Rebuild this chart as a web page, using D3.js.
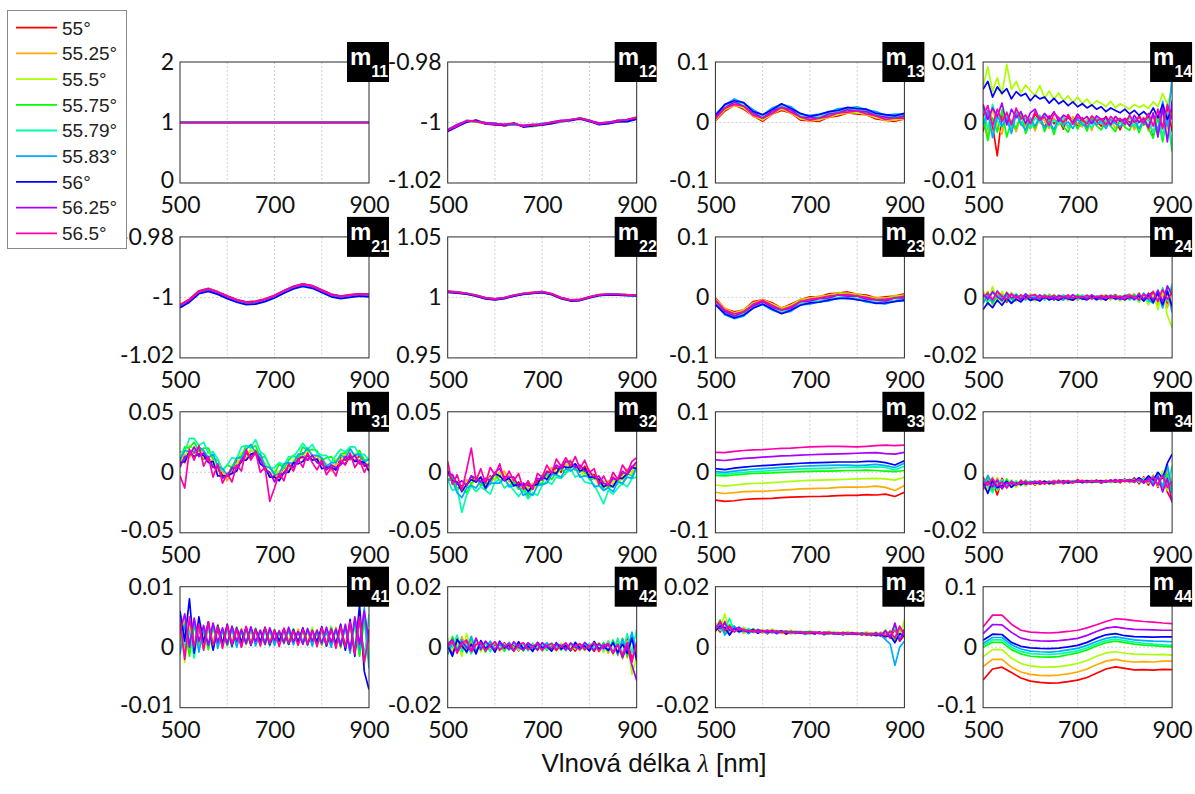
<!DOCTYPE html>
<html><head><meta charset="utf-8">
<script src="https://cdn.jsdelivr.net/npm/d3@7"></script>
<style>body{margin:0;background:#fff}svg{display:block}</style>
</head><body>
<svg id="chart" width="1195" height="794"></svg>
<script>
// ---------- data (series values are in thousandths of the matrix element) ----------
const UNIT = 1e-3;
const angles = ["55°","55.25°","55.5°","55.75°","55.79°","55.83°","56°","56.25°","56.5°"];
const panelNames = ["11","12","13","14","21","22","23","24","31","32","33","34","41","42","43","44"];
const xTickLabels = ["500","700","900"];
const xGrid = [500,600,700,800,900];
const yTickLabels = [
 ["0","1","2"],["-1.02","-1","-0.98"],["-0.1","0","0.1"],["-0.01","0","0.01"],
 ["-1.02","-1","-0.98"],["0.95","1","1.05"],["-0.1","0","0.1"],["-0.02","0","0.02"],
 ["-0.05","0","0.05"],["-0.05","0","0.05"],["-0.1","0","0.1"],["-0.02","0","0.02"],
 ["-0.01","0","0.01"],["-0.02","0","0.02"],["-0.02","0","0.02"],["-0.1","0","0.1"]
];
const wl2 = [500,900];
const wl21 = [500,520,540,560,580,600,620,640,660,680,700,720,740,760,780,800,820,840,860,880,900];
const wl41 = [500,510,520,530,540,550,560,570,580,590,600,610,620,630,640,650,660,670,680,690,700,710,720,730,740,750,760,770,780,790,800,810,820,830,840,850,860,870,880,890,900];

const m11 = [[1000,1000],[1000,1000],[1000,1000],[1000,1000],[1000,1000],[1000,1000],[1000,1000],[1000,1000],[1000,1000]];
const m12 = [
 [-1002.8,-1001.2,-999.4,-999.8,-1000.4,-1000.2,-1001.1,-1000.6,-1001.0,-1001.3,-1000.4,-1000.3,-999.8,-999.0,-998.9,-999.6,-1000.1,-1000.3,-999.2,-999.6,-998.8],
 [-1002.3,-1000.8,-999.8,-999.3,-1000.0,-1000.7,-1000.6,-1000.2,-1001.4,-1000.7,-1000.8,-999.8,-999.4,-999.3,-998.4,-999.2,-1000.6,-999.8,-999.7,-999.0,-998.2],
 [-1002.6,-1001.3,-999.5,-999.7,-1000.3,-1000.4,-1000.9,-1000.5,-1001.1,-1001.5,-1000.5,-1000.1,-999.7,-999.1,-998.7,-999.5,-1000.2,-1000.1,-999.4,-999.3,-998.5],
 [-1002.4,-1000.9,-999.7,-999.4,-1000.1,-1000.6,-1000.7,-1000.3,-1001.3,-1000.8,-1000.7,-999.9,-999.5,-999.2,-998.5,-999.3,-1000.5,-999.9,-999.6,-999.1,-998.3],
 [-1002.2,-1001.0,-999.6,-999.6,-1000.2,-1000.5,-1000.8,-1000.4,-1001.2,-1000.9,-1000.6,-1000.0,-999.6,-999.3,-998.6,-999.4,-1000.4,-1000.0,-999.5,-999.2,-998.4],
 [-1002.7,-1001.1,-999.3,-999.5,-1000.0,-1000.3,-1000.9,-1000.7,-1001.0,-1001.0,-1000.3,-1000.2,-999.9,-999.0,-998.8,-999.7,-1000.3,-1000.2,-999.3,-999.4,-998.6],
 [-1003.0,-1001.4,-999.9,-999.2,-1000.5,-1000.8,-1001.0,-1000.2,-1001.5,-1001.1,-1000.9,-1000.4,-999.5,-999.4,-998.7,-999.6,-1000.7,-1000.4,-999.8,-999.7,-998.9],
 [-1002.4,-1000.7,-999.5,-999.6,-1000.1,-1000.4,-1000.6,-1000.5,-1000.9,-1000.6,-1000.5,-999.9,-999.3,-999.1,-998.5,-999.3,-1000.2,-999.9,-999.4,-999.0,-998.3],
 [-1002.5,-1001.2,-999.4,-999.6,-1000.4,-1000.6,-1000.7,-1000.3,-1001.2,-1000.8,-1000.7,-1000.0,-999.6,-999.1,-998.6,-999.5,-1000.5,-1000.0,-999.6,-999.0,-998.5]
];
const m13 = [
 [3,19,29,22,11,2,14,20,16,4,3,2,9,11,16,14,13,6,4,2,6],
 [5,21,28,25,10,5,13,23,15,7,2,5,8,14,15,17,12,9,3,5,5],
 [4,23,31,24,13,4,16,22,18,6,5,4,11,13,18,16,15,8,6,4,8],
 [8,23,33,27,13,8,16,26,18,10,5,8,11,17,18,20,15,12,6,8,8],
 [9,28,34,31,16,10,21,27,23,11,10,9,16,18,23,21,20,13,11,9,13],
 [14,29,39,32,21,12,24,30,26,14,12,14,17,23,24,26,21,18,12,14,14],
 [11,30,36,33,18,13,21,31,23,15,10,13,18,20,25,23,22,15,13,11,15],
 [9,24,34,27,16,7,19,25,21,9,8,7,14,16,21,19,18,11,9,7,11],
 [6,24,30,27,12,7,15,25,17,9,4,7,10,16,17,19,14,11,5,7,7]
];
const m14 = [
 [-1.5,1.8,-0.5,-5.5,1.2,0.4,-1.2,2.0,-0.3,0.9,-1.0,1.5,0.2,-0.8,1.1,-0.2,0.6,-1.1,1.3,0.1,-0.5,0.8,-0.9,0.6,0.2,-0.6,1.0,-0.3,0.4,-1.2,0.7,0.1,-0.8,1.2,-0.4,0.9,-2.2,1.5,-0.8,2.6,-1.5],
 [0.5,-2.2,2.5,-0.8,-1.9,1.6,0.2,-1.5,1.0,-0.6,0.8,-1.4,0.9,0.3,-1.0,0.7,-0.4,0.5,-0.9,1.0,-0.2,-0.7,0.6,-1.3,0.8,0.0,-0.8,0.5,-1.0,0.3,-0.6,1.0,-1.2,0.2,0.9,-1.4,1.2,-2.0,2.3,-1.0,1.8],
 [6.0,9.2,5.1,7.4,4.6,9.6,5.5,6.8,4.9,6.2,5.3,4.4,6.1,4.0,5.2,3.8,4.9,3.6,4.4,3.3,4.2,3.1,3.9,2.8,3.6,3.2,2.6,3.5,2.4,3.1,2.7,2.2,3.0,2.5,2.9,2.3,3.4,2.6,4.8,3.0,5.5],
 [1.0,-3.0,0.8,-1.6,2.1,-2.4,0.3,-1.0,1.4,-1.8,0.1,-0.9,1.2,-1.5,0.4,-2.0,0.6,-0.7,-1.6,0.5,-1.1,0.3,-1.4,0.9,-0.5,-1.2,0.2,-0.6,-1.5,0.4,-0.8,-1.3,0.6,-1.7,0.3,-1.0,-2.6,0.8,-3.2,1.0,-4.8],
 [2.5,-1.2,3.0,0.2,-0.8,1.8,-1.2,2.2,-0.4,1.0,-1.0,0.8,0.0,1.2,-0.7,0.4,-0.3,1.0,-0.8,0.2,0.6,-0.5,0.3,-0.9,0.7,-0.2,0.4,-0.6,0.5,0.0,-0.4,0.8,-0.7,0.3,-0.2,0.6,-1.8,2.0,-2.4,1.6,-4.0],
 [-0.5,2.0,-2.5,1.2,-0.6,0.8,-1.8,1.4,-0.2,-1.2,0.7,-0.6,0.9,-0.9,0.2,-1.2,0.8,-0.4,0.1,-1.0,0.6,-0.3,-0.8,0.4,-0.4,0.3,-1.0,0.5,-0.2,-0.7,0.3,-0.5,0.6,-1.0,0.5,-0.6,1.4,-1.4,3.5,-0.6,7.5],
 [5.5,6.8,4.2,5.9,4.8,5.6,3.9,5.1,4.4,4.8,3.6,4.5,3.9,4.2,3.2,4.0,3.1,3.6,2.8,3.4,2.6,3.1,2.4,2.9,2.2,2.6,1.8,2.4,2.0,1.6,2.2,1.4,2.0,1.2,1.8,1.0,2.4,0.8,3.0,0.5,2.2],
 [3.0,0.5,2.4,1.0,3.2,-0.4,2.2,0.8,1.8,-0.2,1.6,2.2,0.4,1.5,0.6,1.8,0.2,1.2,0.8,0.0,1.4,0.4,1.0,-0.2,1.1,0.5,0.8,-0.4,1.0,0.2,0.6,-0.6,1.2,0.0,0.7,-0.9,1.6,-2.4,2.4,-3.2,3.6],
 [1.0,2.8,-0.6,2.2,0.2,1.6,-0.4,2.4,0.6,1.2,-0.2,1.8,0.4,0.9,-0.5,1.5,0.8,0.0,1.2,-0.3,0.9,0.4,-0.2,1.1,0.3,0.6,-0.4,1.0,0.2,0.7,-0.3,1.2,0.0,0.9,-0.1,1.5,-0.6,2.2,-1.0,3.0,0.5]
];
const m21 = [
 [-1002.4,-1000.6,-997.8,-997.0,-998.1,-999.5,-1000.7,-1001.5,-1001.2,-1000.5,-999.3,-997.7,-996.3,-995.5,-996.1,-997.5,-998.9,-999.6,-999.1,-998.8,-998.9],
 [-1002.6,-1001.2,-998.0,-997.3,-998.6,-999.6,-1001.2,-1001.6,-1001.8,-1000.6,-999.8,-997.8,-996.8,-995.6,-996.6,-997.6,-999.4,-999.6,-999.6,-998.8,-999.4],
 [-1003.0,-1000.8,-998.4,-997.2,-998.2,-1000.0,-1000.8,-1002.0,-1001.4,-1001.0,-999.4,-998.2,-996.4,-996.0,-996.2,-998.0,-999.0,-1000.0,-999.2,-999.2,-999.0],
 [-1002.8,-1001.1,-998.3,-997.5,-998.5,-999.9,-1001.1,-1001.9,-1001.7,-1000.9,-999.7,-998.1,-996.7,-995.9,-996.5,-997.9,-999.3,-999.9,-999.5,-999.1,-999.3],
 [-1003.2,-1001.4,-998.6,-997.8,-998.8,-1000.1,-1001.3,-1002.1,-1001.9,-1001.1,-999.9,-998.3,-996.9,-996.1,-996.7,-998.1,-999.5,-1000.1,-999.7,-999.3,-999.5],
 [-1003.0,-1001.3,-998.5,-997.6,-998.7,-1000.0,-1001.2,-1002.0,-1001.8,-1001.0,-999.8,-998.2,-996.8,-996.0,-996.6,-998.0,-999.4,-1000.0,-999.6,-999.2,-999.4],
 [-1003.4,-1001.6,-998.8,-998.0,-999.0,-1000.4,-1001.6,-1002.4,-1002.2,-1001.4,-1000.2,-998.6,-997.2,-996.4,-997.0,-998.4,-999.8,-1000.4,-1000.0,-999.6,-999.8],
 [-1002.6,-1000.8,-998.0,-997.2,-998.2,-999.6,-1000.8,-1001.6,-1001.4,-1000.6,-999.4,-997.8,-996.4,-995.6,-996.2,-997.6,-999.0,-999.6,-999.2,-998.8,-999.0],
 [-1002.5,-1000.9,-998.1,-997.3,-998.3,-999.7,-1000.9,-1001.7,-1001.5,-1000.7,-999.5,-997.9,-996.5,-995.7,-996.3,-997.7,-999.1,-999.7,-999.3,-998.9,-999.1]
];
const m22 = [
 [1005.2,1004.6,1003.4,1001.9,999.8,998.9,999.9,1001.9,1003.3,1004.1,1004.9,1003.1,999.9,997.9,998.3,1000.5,1002.3,1002.9,1002.7,1002.3,1002.1],
 [1004.6,1004.0,1003.0,1001.4,999.2,998.4,999.4,1001.4,1002.8,1003.6,1004.4,1002.6,999.4,997.4,997.8,1000.0,1001.8,1002.4,1002.2,1001.8,1001.6],
 [1005.0,1004.4,1003.6,1001.8,999.6,998.8,999.8,1001.8,1003.2,1004.0,1004.8,1003.0,999.8,997.8,998.2,1000.4,1002.2,1002.8,1002.6,1002.2,1002.0],
 [1004.4,1003.8,1002.8,1001.2,999.0,998.2,999.2,1001.2,1002.6,1003.4,1004.2,1002.4,999.2,997.2,997.6,999.8,1001.6,1002.2,1002.0,1001.6,1001.4],
 [1004.9,1004.3,1003.3,1001.7,999.5,998.7,999.7,1001.7,1003.1,1003.9,1004.7,1002.9,999.7,997.7,998.1,1000.3,1002.1,1002.7,1002.5,1002.1,1001.9],
 [1004.7,1004.1,1003.1,1001.5,999.3,998.5,999.5,1001.5,1002.9,1003.7,1004.5,1002.7,999.5,997.5,997.9,1000.1,1001.9,1002.5,1002.3,1001.9,1001.7],
 [1004.2,1003.6,1002.6,1001.0,998.8,998.0,999.0,1001.0,1002.4,1003.2,1004.0,1002.2,999.0,997.0,997.4,999.6,1001.4,1002.0,1001.8,1001.4,1001.2],
 [1005.0,1004.4,1003.4,1001.8,999.6,998.8,999.8,1001.8,1003.2,1004.0,1004.8,1003.0,999.8,997.8,998.2,1000.4,1002.2,1002.8,1002.6,1002.2,1002.0],
 [1004.8,1004.2,1003.2,1001.6,999.4,998.6,999.6,1001.6,1003.0,1003.8,1004.6,1002.8,999.6,997.6,998.0,1000.2,1002.0,1002.6,1002.4,1002.0,1001.8]
];
const m23 = [
 [-1,-19,-24,-21,-7,-4,-9,-18,-11,-4,1,1,6,7,9,5,4,-1,1,2,6],
 [-3,-18,-26,-20,-10,-3,-11,-17,-13,-3,-1,2,3,8,6,6,1,0,-2,3,3],
 [-4,-21,-26,-23,-9,-6,-11,-20,-13,-6,-1,-1,4,5,7,3,2,-3,-1,0,4],
 [-5,-22,-29,-23,-12,-6,-14,-20,-16,-6,-4,-1,1,5,4,3,-1,-3,-4,0,1],
 [-10,-24,-33,-27,-14,-11,-16,-25,-18,-11,-6,-6,-1,0,2,-2,-3,-8,-6,-5,-1],
 [-11,-29,-35,-31,-17,-12,-21,-26,-23,-12,-11,-7,-6,-1,-3,-3,-8,-9,-11,-6,-6],
 [-12,-27,-34,-29,-18,-11,-19,-27,-21,-13,-9,-8,-4,-2,-1,-4,-6,-10,-9,-7,-4],
 [-6,-23,-31,-24,-14,-7,-16,-21,-18,-7,-6,-2,-1,4,2,2,-3,-4,-6,-1,-1],
 [-5,-21,-27,-24,-11,-5,-13,-21,-15,-7,-3,-1,2,4,5,2,0,-4,-3,-1,2]
];
const m24 = [
 [1.5,-1.0,2.2,-0.5,0.8,-1.6,1.2,0.2,-0.8,1.0,-0.3,0.6,-1.1,0.9,0.0,-0.7,0.5,-0.2,0.8,-0.9,0.3,0.6,-0.5,0.2,-0.8,0.7,0.1,-0.4,0.9,-0.6,0.4,1.0,-0.8,1.4,-1.2,0.6,2.0,-1.5,2.8,-2.0,3.5],
 [-1.2,2.0,-2.4,1.2,-0.9,1.8,-0.4,-1.2,1.0,-0.6,0.9,-1.0,0.4,-0.5,1.1,-0.3,-0.8,0.7,-0.4,0.5,-1.0,0.2,0.8,-0.7,0.3,-0.2,0.9,-0.8,0.2,0.6,-0.9,0.4,1.2,-1.4,0.8,-1.8,1.6,-2.6,1.0,-3.4,2.4],
 [2.4,-2.8,3.6,-1.5,2.0,-0.8,1.6,-1.4,0.9,-0.2,1.3,-1.2,0.5,0.8,-0.9,1.0,-0.6,0.4,-1.1,0.7,0.0,-0.8,0.6,-0.3,0.5,-1.0,0.8,-0.4,0.3,-1.2,0.9,-0.7,0.4,-1.6,0.7,-2.5,1.2,-4.0,2.5,-6.0,-10.0],
 [-0.8,1.6,-2.0,0.6,-1.4,1.0,-0.6,1.2,-0.9,0.4,-0.5,1.0,-0.8,0.2,0.6,-0.9,0.8,-0.4,0.3,-0.6,0.9,-0.2,-0.5,0.7,-0.6,0.4,-0.3,0.8,-0.7,0.1,0.5,-0.8,0.9,-0.3,-1.0,1.2,-1.8,2.2,-2.2,1.5,-3.0],
 [0.6,-1.8,1.9,-0.2,0.9,-1.1,1.4,-0.5,0.3,-1.0,0.8,-0.2,0.5,-0.9,0.7,0.1,-0.6,0.9,-0.3,0.4,-0.7,0.8,0.0,-0.5,0.6,-0.4,0.3,0.7,-0.6,0.5,-0.2,0.8,-0.9,1.0,0.0,-1.4,1.8,-0.6,3.2,-1.2,4.5],
 [-2.0,0.8,-1.5,2.2,-0.6,0.5,-1.8,0.9,-0.4,1.2,-1.0,0.3,-0.6,0.8,-0.8,0.5,-0.2,-0.9,0.6,-0.1,0.4,-0.6,0.2,0.5,-0.9,0.3,-0.4,0.1,0.6,-0.7,0.2,-0.5,0.7,-1.1,1.5,-0.8,-2.0,1.4,-3.5,2.6,-5.0],
 [-4.0,-1.8,-3.4,-0.9,-2.6,-0.4,-2.0,-0.6,-1.5,0.2,-1.0,-0.5,-1.2,0.3,-0.8,-0.2,-1.0,0.1,-0.5,-0.9,0.2,-0.4,-0.8,0.3,-0.6,-0.2,-0.9,0.4,-0.5,-0.1,-0.8,0.3,-0.6,0.5,-1.2,0.8,-1.6,1.5,-2.4,2.0,-3.0],
 [1.0,-0.5,1.8,0.2,-1.0,1.5,-0.2,0.6,-0.7,1.1,0.0,-0.6,0.8,-0.3,0.4,-0.8,0.6,0.2,-0.5,0.9,-0.2,0.3,-0.6,0.8,0.0,-0.5,0.6,-0.2,0.4,-0.6,0.7,0.0,-0.4,0.9,-0.6,1.4,-0.8,2.4,-1.4,3.8,1.0],
 [0.2,1.4,-0.8,2.0,0.4,-0.6,1.2,-0.3,0.8,-0.5,0.6,0.9,-0.4,0.5,-0.2,0.7,-0.5,0.3,0.6,-0.3,0.4,-0.1,0.7,-0.4,0.3,0.5,-0.3,0.6,-0.1,0.4,-0.5,0.6,0.2,-0.7,1.0,-0.4,1.8,-1.2,2.6,-0.6,1.5]
];
const m31 = [
 [11,8,18,16,20,11,13,4,6,-3,-1,-1,10,8,15,12,18,10,7,-4,-3,-4,5,1,9,9,16,10,14,8,10,4,6,2,12,10,14,9,14,5,7],
 [6,15,12,19,15,18,9,10,1,1,-7,3,5,13,11,18,14,15,2,0,-6,1,0,6,3,13,11,15,10,14,6,7,1,7,7,16,10,14,9,10,1],
 [11,11,22,19,20,12,17,10,3,3,-4,6,7,16,14,19,14,15,7,-2,1,-1,5,2,10,15,13,18,14,9,11,7,4,11,10,16,12,15,15,7,7],
 [10,21,20,25,17,20,20,11,10,2,6,4,12,13,22,20,22,12,13,5,-1,7,3,10,14,11,21,18,19,18,10,12,13,8,15,16,20,13,18,10,11],
 [17,17,28,28,22,25,16,17,11,1,6,12,11,21,22,21,27,17,14,3,4,8,6,13,13,18,24,19,23,16,14,14,8,14,19,17,21,21,14,15,10],
 [10,18,17,17,21,18,12,15,5,3,-2,2,12,12,19,23,16,15,5,4,-2,-1,7,8,7,15,15,20,14,14,12,5,8,8,14,12,19,14,15,8,11],
 [8,9,17,13,15,14,8,9,-3,-3,-3,-1,1,10,10,15,16,7,4,-4,-4,-7,0,0,8,7,9,14,10,11,3,4,4,2,8,7,13,9,9,8,1],
 [4,13,14,21,13,16,10,4,4,-5,-3,4,3,10,16,12,16,11,2,0,-8,-2,-1,6,4,11,13,10,14,8,7,2,6,4,6,13,11,14,7,7,6],
 [-3,-13,19,10,22,5,13,-4,7,-9,-1,-8,6,1,19,10,17,0,4,-24,-13,-1,-7,7,1,11,4,16,8,2,10,-2,4,-3,10,6,16,4,10,0,7]
];
const m32 = [
 [-2,-2,-14,-11,-11,-3,-8,-4,-10,-3,-6,0,-4,-3,-11,-8,-13,-9,-14,-7,-6,1,-1,4,0,9,5,7,0,5,-2,-2,-10,-8,-12,-4,-9,-1,-2,5,2],
 [3,-9,-8,-14,-6,-10,-4,-10,-5,-7,0,-4,1,-8,-7,-14,-9,-14,-9,-11,-3,-4,4,-1,6,5,10,2,4,-1,2,-5,-5,-13,-7,-10,-5,-6,3,0,8],
 [0,-9,-7,-14,-9,-12,-3,-7,-11,-4,-6,0,-5,-3,-11,-10,-16,-12,-12,-12,-2,-4,1,-3,4,8,4,7,1,-3,0,-5,-10,-7,-12,-7,-10,-3,1,-1,5],
 [-6,-4,-14,-13,-17,-9,-5,-11,-9,-10,-1,-7,-5,-11,-8,-14,-13,-20,-11,-10,-9,-1,-6,0,3,-1,7,2,1,1,-6,-5,-6,-15,-12,-12,-7,-10,-1,-3,4],
 [-6,-15,-13,-33,-19,-11,-16,-12,-15,-18,-8,-6,-13,-10,-15,-20,-15,-22,-17,-19,-11,-7,-10,-4,-5,-1,3,-4,-2,-8,-9,-10,-18,-26,-15,-18,-13,-9,-12,-5,-4],
 [-6,-7,-17,-21,-13,-11,-13,-7,-14,-9,-9,-9,-5,-12,-11,-11,-19,-17,-19,-11,-10,-9,-2,-2,-4,3,1,4,-4,-3,-4,-12,-11,-15,-13,-16,-8,-9,-4,-5,4],
 [1,-7,-8,-16,-10,-6,-8,-4,-13,-6,-1,-3,-7,-5,-11,-10,-10,-16,-11,-10,-3,-6,0,-1,6,4,4,7,1,3,-4,-4,-6,-12,-10,-12,-5,-5,-1,4,3],
 [-2,-2,-10,-7,-11,-3,-5,-8,-5,-7,0,3,-4,-4,-4,-12,-9,-11,-12,-5,-6,0,0,6,3,9,9,4,6,1,1,-5,-3,-9,-11,-5,-6,1,-2,4,9],
 [9,-10,-2,-15,2,20,-7,3,-9,4,-2,7,-7,1,-7,-1,-14,-7,-14,-1,-4,6,-1,11,5,12,5,13,3,10,0,3,-10,-3,-11,0,-6,6,0,9,12]
];
const m33 = [
 [-46,-48,-47,-45,-44,-43.5,-43,-42,-41,-40.5,-40,-40,-39.5,-38.5,-38,-38,-37,-37.5,-36,-40,-33],
 [-33,-35,-33.5,-32,-31.5,-31.5,-30.5,-29.5,-28.5,-27.5,-27,-26.5,-26,-25,-24.5,-24.5,-24,-23,-25,-30,-22],
 [-21,-23,-21,-19.5,-18.5,-18,-17,-16,-15,-14,-13.5,-13,-12.5,-12,-11.5,-11,-10.5,-10,-11,-13,-8],
 [-5,-6,-4.5,-3,-2,-1.5,-1,0,0.5,1,1.5,2,2,2.5,3,3,3.5,3,2,1,3],
 [-2,-3,-1.5,0,1,2,3,4,4.5,5.5,6,6.5,7,7.5,8,8,8.5,9,8,4,10],
 [1,0,2,3.5,5,6,7,8,9,10,10.5,11,11.5,12,12,11,12,13,11,8,15],
 [6,4.5,7,8.5,10,11,12,13,14,15,15.5,16,16.5,17,17,17,18,18,16,12,19],
 [20.5,19.5,21.5,23,24,25,26,27,27.5,28.5,29,29.5,30,30.5,31,31.5,32,32.5,31,30,33],
 [33,32.5,34.5,36,37,37.5,38.5,39.5,40,41,42,42.5,43,43,42.5,42,43,44,45,44,45]
];
const m34 = [
 [-1.5,-6.5,-3.0,-7.5,-2.0,-5.0,-3.2,-4.8,-2.6,-4.4,-3.0,-4.2,-2.8,-3.9,-3.1,-4.0,-2.6,-3.8,-2.9,-3.6,-2.4,-3.5,-2.7,-3.4,-2.5,-3.6,-2.6,-3.3,-2.4,-3.5,-2.2,-3.4,-1.8,-3.8,-1.5,-4.2,-1.0,-5.0,-0.5,-6.5,-9.5],
 [-6.0,-2.5,-5.5,-1.8,-4.8,-2.6,-4.6,-2.8,-4.2,-2.9,-4.0,-3.0,-4.1,-3.2,-3.8,-2.6,-3.6,-2.8,-3.5,-2.7,-3.4,-2.6,-3.3,-2.8,-3.2,-2.6,-3.4,-2.7,-3.1,-2.5,-3.2,-2.4,-3.4,-2.0,-3.6,-1.6,-4.0,-1.0,-5.5,0.5,-4.0],
 [-3.0,-5.8,-1.5,-6.0,-3.5,-4.5,-2.5,-5.0,-3.0,-4.5,-2.8,-4.0,-3.2,-3.6,-2.8,-3.8,-3.0,-3.4,-2.6,-3.5,-3.0,-3.2,-2.6,-3.6,-2.8,-3.3,-2.5,-3.5,-2.9,-3.0,-2.5,-3.3,-2.4,-3.0,-1.8,-3.6,-1.2,-4.6,0.5,-6.0,-2.0],
 [-5.0,-2.0,-6.2,-3.0,-5.4,-2.2,-4.8,-3.0,-4.4,-2.6,-3.9,-3.1,-3.7,-2.8,-4.0,-3.0,-3.5,-2.7,-3.6,-2.9,-3.3,-2.8,-3.5,-2.6,-3.3,-2.8,-3.2,-2.7,-3.3,-2.6,-3.1,-2.5,-3.2,-2.2,-3.4,-1.8,-3.8,-1.4,-4.4,-0.8,-7.0],
 [-2.5,-4.5,-6.8,-3.5,-2.5,-4.2,-3.5,-3.0,-4.0,-3.2,-3.6,-2.8,-3.8,-3.0,-3.4,-2.9,-3.6,-3.0,-3.3,-2.8,-3.2,-3.1,-2.9,-3.3,-2.7,-3.1,-2.9,-3.2,-2.7,-3.0,-2.6,-3.1,-2.5,-3.3,-2.0,-3.4,-1.5,-3.8,-0.8,-4.5,2.0],
 [-4.5,-1.0,-4.0,-5.5,-3.0,-4.8,-2.8,-4.2,-3.2,-3.8,-3.0,-3.7,-3.3,-3.4,-3.0,-3.5,-3.1,-3.0,-3.4,-2.9,-3.1,-3.0,-3.2,-2.9,-3.1,-2.7,-3.2,-2.8,-3.0,-2.9,-2.7,-3.0,-2.6,-2.8,-3.2,-2.0,-3.6,-0.8,-5.0,2.5,-6.0],
 [-3.5,-7.0,-2.5,-5.0,-4.5,-3.0,-5.0,-3.6,-4.0,-3.2,-3.8,-3.4,-3.6,-3.0,-3.7,-3.2,-3.4,-2.9,-3.5,-3.2,-3.0,-3.3,-2.8,-3.2,-3.0,-2.9,-3.1,-2.6,-3.2,-2.5,-2.9,-2.4,-3.0,-1.8,-3.0,-1.2,-2.6,0.0,-2.0,3.0,6.0],
 [-5.5,-3.0,-4.8,-2.5,-5.5,-3.4,-3.8,-4.2,-3.0,-4.0,-3.4,-3.0,-3.9,-3.3,-3.2,-3.6,-2.9,-3.5,-3.0,-3.3,-2.8,-3.2,-3.0,-3.1,-2.7,-3.3,-2.9,-3.0,-2.6,-3.1,-2.8,-2.9,-3.2,-2.3,-3.6,-2.0,-4.5,-1.5,-6.5,-2.0,-10.0],
 [-3.0,-4.2,-2.0,-4.6,-3.2,-5.2,-3.0,-4.0,-3.6,-3.0,-3.9,-3.2,-3.0,-3.7,-3.3,-2.9,-3.4,-3.1,-2.8,-3.4,-3.0,-2.7,-3.3,-2.9,-3.0,-3.2,-2.7,-3.0,-3.1,-2.6,-3.0,-2.5,-3.1,-2.4,-2.8,-3.0,-1.6,-4.2,-1.0,-5.0,-3.0]
];
const m41 = [
 [3.5,-1.5,4.0,-0.5,3.2,0.0,3.6,-0.2,3.0,0.2,3.3,0.4,2.9,0.1,3.1,0.5,2.8,0.6,3.0,0.4,2.6,0.7,2.9,0.5,2.7,0.8,3.0,0.6,2.8,0.5,3.1,0.3,3.2,0.2,3.4,-0.2,3.8,-0.8,4.5,-1.5,3.0],
 [-0.5,4.5,-1.0,3.8,0.2,3.4,-0.3,3.2,0.5,3.0,0.3,2.8,0.6,3.1,0.4,2.7,0.7,2.9,0.5,2.6,0.8,2.8,0.6,2.7,0.5,3.0,0.7,2.6,0.4,2.9,0.3,3.2,0.1,3.3,-0.1,3.6,-0.6,4.2,-1.2,5.0,-2.5],
 [5.0,-2.5,3.5,0.5,4.2,-0.5,3.0,1.0,3.8,0.0,2.8,1.2,3.4,0.4,2.6,1.0,3.2,0.3,2.7,1.1,3.0,0.5,2.5,1.2,3.1,0.4,2.6,1.0,3.3,0.2,2.8,0.8,3.5,0.0,3.0,0.4,4.0,-1.0,6.0,-3.0,1.0],
 [1.0,4.0,-1.5,3.6,0.8,2.8,-0.4,3.5,0.6,2.6,0.2,3.2,0.8,2.4,0.5,3.0,0.9,2.5,0.4,2.8,1.0,2.3,0.6,2.9,0.9,2.4,0.5,2.7,1.0,2.2,0.4,2.9,0.6,2.8,0.0,3.4,-0.5,3.8,-1.5,4.5,-2.0],
 [4.2,0.2,2.8,-1.8,4.0,0.5,3.2,-0.4,3.5,0.6,2.9,0.0,3.3,0.8,2.8,0.3,3.1,0.9,2.6,0.2,2.9,1.0,2.5,0.4,3.0,1.0,2.7,0.3,2.9,0.8,2.6,0.2,3.3,0.6,3.1,-0.3,3.6,0.0,4.8,-2.0,5.5],
 [-1.2,3.6,0.8,4.4,-0.8,3.0,0.4,3.8,-0.2,2.8,0.7,3.0,0.0,2.7,0.8,3.2,0.2,2.6,0.9,2.9,0.3,2.5,1.0,2.8,0.4,2.6,0.9,3.0,0.2,2.7,0.8,2.5,0.0,3.0,0.6,3.2,-1.0,4.4,-0.4,6.5,-3.5],
 [6.0,1.0,8.0,-1.0,5.0,0.8,4.2,-0.5,3.6,0.6,3.8,0.2,3.2,0.8,3.4,0.3,3.0,0.9,3.3,0.4,2.8,1.0,3.1,0.5,2.9,0.8,3.2,0.4,2.7,0.9,3.4,0.2,3.0,0.5,3.8,-0.5,4.6,-1.5,7.0,-4.0,-7.0],
 [2.5,5.5,0.0,4.8,1.0,3.6,0.3,4.0,0.8,3.2,0.5,3.5,1.0,2.9,0.6,3.4,0.9,2.8,0.5,3.2,1.1,2.7,0.7,3.3,0.9,2.6,0.5,3.1,1.0,2.8,0.6,3.3,0.8,3.0,0.2,3.8,-0.5,5.0,0.5,6.0,1.0],
 [4.5,-2.0,5.0,0.0,3.8,-0.5,4.2,0.3,3.4,-0.2,3.6,0.4,3.1,0.0,3.4,0.5,2.9,0.2,3.2,0.6,2.8,0.1,3.1,0.6,2.7,0.3,3.0,0.5,2.8,0.1,3.2,0.4,3.0,-0.2,3.5,0.0,4.2,-1.2,5.0,-2.5,2.0]
];
const m42 = [
 [1.5,-2.5,3.0,-1.0,2.0,-1.8,1.4,-0.6,1.8,-1.2,1.0,-0.8,1.5,-0.9,0.8,-1.2,1.2,-0.5,0.9,-1.0,1.3,-0.7,0.6,-1.1,1.0,-0.4,0.8,-1.3,1.1,-0.6,0.7,-1.4,1.4,-0.8,1.8,-2.0,2.2,-3.0,3.0,-4.0,1.0],
 [-2.0,2.2,-1.5,3.5,-1.2,1.6,-2.0,1.8,-0.8,1.2,-1.5,1.4,-0.6,1.0,-1.4,1.2,-0.8,1.5,-1.1,0.7,-0.9,1.2,-1.2,0.8,-0.6,1.3,-1.0,0.7,-1.2,1.0,-0.8,1.1,-1.5,0.9,-2.0,2.0,-2.8,3.0,-3.5,4.0,-2.0],
 [3.0,-1.0,1.5,-3.0,4.5,-0.5,2.0,-1.5,1.2,-0.6,1.6,-1.3,0.9,-0.4,1.4,-1.0,0.6,-0.8,1.2,-0.3,0.8,-1.2,1.0,-0.5,1.3,-0.9,0.5,-0.6,1.2,-1.1,0.9,-0.5,1.6,-1.8,2.2,-2.6,1.5,-4.0,2.0,-9.0,-3.0],
 [-1.0,3.5,-0.5,2.0,-2.0,3.0,-1.2,1.5,-1.6,1.8,-0.8,1.2,-1.4,1.6,-0.7,1.0,-1.3,1.3,-0.6,1.1,-1.2,0.9,-0.5,1.4,-1.0,0.8,-1.3,1.2,-0.5,0.9,-1.1,1.3,-0.8,1.6,-1.4,2.4,-2.0,2.8,-3.0,3.5,-1.0],
 [2.0,0.0,4.0,-1.5,1.0,-2.2,2.5,-0.3,1.4,-1.5,1.8,-0.4,1.1,-1.0,1.5,-0.6,1.0,-1.2,1.3,-0.5,1.0,-1.0,1.4,-0.2,0.8,-1.2,1.2,-0.3,0.9,-0.9,1.3,-0.4,1.0,-1.0,2.0,-1.6,3.0,-2.5,4.5,-2.0,6.0],
 [-2.5,1.5,-1.0,2.5,-0.5,3.6,-1.5,1.0,-0.4,2.0,-1.0,0.9,-0.2,1.6,-1.1,0.6,-0.4,1.4,-1.0,0.8,-0.3,1.5,-0.8,0.7,-0.2,1.1,-0.7,0.9,-0.4,1.4,-0.6,0.8,-0.9,1.2,-1.2,1.8,-2.5,2.6,-1.5,5.0,-3.5],
 [0.5,-3.0,2.5,0.5,-1.5,1.0,-2.2,2.2,-0.5,0.8,-1.6,2.0,-0.3,0.6,-1.2,1.8,-0.5,0.4,-1.4,1.6,-0.2,0.3,-1.3,1.5,-0.6,0.5,-1.1,1.6,-0.3,0.4,-1.2,1.9,-0.6,0.2,-1.0,1.5,-1.8,1.0,-2.0,3.0,-4.5],
 [1.0,2.5,-1.5,1.8,0.0,-1.0,3.0,-0.8,2.0,0.2,-0.8,1.6,0.4,-0.6,1.8,0.0,-0.9,1.4,0.3,-0.8,1.5,0.2,-0.6,1.2,0.5,-0.9,1.4,0.0,-0.7,1.6,0.2,-1.0,1.2,-0.4,0.8,-2.0,1.0,-3.5,0.5,-6.0,-11.0],
 [0.0,2.0,-2.0,1.2,2.4,-1.5,0.8,1.6,-1.2,0.5,1.8,-1.0,0.4,1.2,-1.2,0.7,1.5,-0.8,0.2,1.3,-1.0,0.6,1.2,-0.7,0.3,1.4,-0.9,0.5,1.1,-0.8,0.4,1.5,-1.3,0.6,1.2,-1.8,0.8,-2.5,1.5,-5.0,2.0]
];
const m43 = [
 [7.0,5.0,8.5,4.5,6.5,5.0,6.2,4.6,5.8,4.8,5.6,4.4,5.5,4.7,5.3,4.3,5.4,4.6,5.0,4.2,5.2,4.5,4.9,4.1,5.0,4.4,4.8,4.0,4.9,4.3,4.6,4.0,4.8,3.8,4.6,3.6,5.0,3.0,6.0,2.0,4.0],
 [5.0,8.0,4.5,6.8,5.5,6.0,4.6,5.8,4.9,5.5,4.6,5.4,4.8,5.2,4.5,5.1,4.4,5.0,4.6,4.8,4.3,4.9,4.5,4.7,4.2,4.8,4.4,4.6,4.1,4.7,4.3,4.5,3.9,4.8,3.6,5.0,2.8,5.5,1.5,6.0,3.0],
 [8.0,6.0,11.0,5.0,7.0,5.5,6.6,5.0,6.2,5.3,5.8,4.9,6.0,5.1,5.5,4.8,5.7,5.0,5.3,4.7,5.5,4.9,5.1,4.6,5.3,4.8,5.0,4.5,5.2,4.7,4.9,4.4,5.1,4.3,5.0,4.0,5.8,3.5,7.5,2.5,9.0],
 [6.0,9.0,5.0,7.5,5.8,6.4,5.2,6.0,5.4,5.6,5.0,5.7,5.2,5.3,4.9,5.4,5.0,5.1,4.8,5.2,4.9,4.9,4.6,5.0,4.7,4.8,4.5,4.9,4.6,4.7,4.4,4.8,4.3,4.6,4.0,4.8,3.6,5.4,2.5,6.5,4.0],
 [7.5,5.5,6.0,9.5,5.2,6.8,5.0,6.2,4.8,5.9,5.0,5.5,4.7,5.6,4.9,5.2,4.6,5.3,4.8,5.0,4.5,5.1,4.7,4.8,4.4,4.9,4.6,4.7,4.3,4.8,4.5,4.6,4.2,4.7,4.4,4.5,5.0,4.0,6.5,3.0,5.0],
 [6.5,7.5,4.0,6.0,7.0,4.8,6.0,4.5,5.6,4.8,5.4,4.6,5.6,4.4,5.2,4.7,5.0,4.5,5.2,4.3,4.9,4.6,4.8,4.2,4.9,4.5,4.6,4.3,4.8,4.2,4.6,4.1,4.4,4.2,3.8,4.0,2.5,1.0,-6.0,0.0,2.0],
 [5.5,7.0,6.5,4.0,6.2,5.2,5.6,5.0,5.9,4.6,5.5,5.1,5.0,4.8,5.4,4.5,5.2,4.8,4.7,4.9,4.8,4.4,5.0,4.5,4.6,4.7,4.3,4.8,4.4,4.5,4.2,4.6,4.1,4.4,4.0,4.2,3.5,3.8,1.5,4.5,3.5],
 [7.0,6.2,8.0,5.5,6.0,6.5,5.4,5.6,5.0,5.8,5.2,5.0,5.5,4.9,5.1,5.2,4.8,5.0,5.1,4.6,5.0,4.8,4.5,4.9,4.8,4.4,4.7,4.6,4.4,4.8,4.3,4.4,4.6,4.1,4.8,3.8,5.5,3.2,8.0,2.0,6.0],
 [6.0,8.5,5.5,7.0,5.0,6.0,5.8,5.2,5.5,5.0,5.3,5.6,4.9,5.4,5.0,4.9,5.2,4.7,5.0,4.8,4.7,5.0,4.8,4.5,4.9,4.6,4.5,4.8,4.5,4.4,4.7,4.2,4.5,4.4,4.2,4.6,3.8,5.2,3.0,7.0,4.0]
];
const m44 = [
 [-54,-36,-33,-42,-51,-56,-58,-59.5,-59,-57,-54.5,-50,-43,-36,-32.5,-35,-37.5,-37,-38,-36.5,-37],
 [-32,-20,-20,-33,-41,-45,-46.5,-47,-46,-44,-41,-36,-29,-23,-20,-23,-24.5,-24,-24.5,-23,-23],
 [-16,-4,-4,-18,-27,-31,-32.5,-33,-32,-30,-27,-22,-15,-9.5,-7.5,-10,-11.5,-12,-12.5,-12,-13],
 [0,8,8,-4,-11,-15,-16,-16.5,-15.5,-12.5,-9.5,-4.5,2,7.5,10,7.5,5,3.5,2.5,1.5,0.6],
 [3,12,12,0,-7,-10.5,-11.5,-12,-11,-8.5,-6,-1,5.5,11,13.5,11,8.5,6.5,5,4,3],
 [6,16,16,4,-3,-6.5,-7.5,-8,-7,-4.5,-2,3,9.5,14.5,17,14.5,12,11,10,9.5,9],
 [11.5,21.5,21,8,1.5,-1,-2,-2.5,-1.5,0.5,3,8,15,20.5,22.5,19,17.5,17,16.5,17,17],
 [22.5,37.5,37,24.5,15,11.5,10.5,10,11,12.5,14.5,19.5,26,31.5,33.5,31,29.5,29,28.5,28,28],
 [33.5,53,53,38,28,25,24,23.5,24.5,26,28,32,37,42.5,47,46,44,42.5,41.5,40,39]
];

// ---------- assembly ----------
const panelData = [m11,m12,m13,m14,m21,m22,m23,m24,m31,m32,m33,m34,m41,m42,m43,m44];
const panelX = [wl2,wl21,wl21,wl41,wl21,wl21,wl21,wl41,wl41,wl41,wl21,wl41,wl41,wl41,wl41,wl21];
const colors = ["#ff0000","#ffaa00","#aaff00","#00ff00","#00ffaa","#00aaff","#0000ff","#aa00ff","#ff00aa"];

const svg = d3.select("#chart");
const W = 189, H = 121, left0 = 180, dxCol = 267.7, top0 = 62, dyRow = 174.9;
const tickFont = "Lato, 'Liberation Sans', sans-serif";

const defs = svg.append("defs");
const panelsG = svg.append("g");
const boxes = svg.append("g");

panelData.forEach((series, k) => {
  const r = Math.floor(k / 4), c = k % 4;
  const L = left0 + c * dxCol, T = top0 + r * dyRow;
  const g = panelsG.append("g").attr("transform", `translate(${L},${T})`);
  const tv = yTickLabels[k].map(Number);
  const x = d3.scaleLinear().domain([500, 900]).range([0, W]);
  const y = d3.scaleLinear().domain([tv[0], tv[2]]).range([H, 0]);
  const xs = panelX[k];

  defs.append("clipPath").attr("id", "clip" + k)
    .append("rect").attr("x", 0).attr("y", 0).attr("width", W).attr("height", H);

  // grid
  g.selectAll(".vg").data(xGrid.slice(1, -1)).join("line")
    .attr("x1", d => x(d)).attr("x2", d => x(d)).attr("y1", 0).attr("y2", H)
    .attr("stroke", "#c4c4c4").attr("stroke-width", 0.8).attr("stroke-dasharray", "2,2");
  g.append("line").attr("x1", 0).attr("x2", W).attr("y1", y(tv[1])).attr("y2", y(tv[1]))
    .attr("stroke", "#c4c4c4").attr("stroke-width", 0.8).attr("stroke-dasharray", "2,2");

  // series
  const lg = g.append("g").attr("clip-path", `url(#clip${k})`);
  series.forEach((s, i) => {
    const line = d3.line()
      .defined((d, j) => j < xs.length)
      .x((d, j) => x(xs[j]))
      .y(d => y(d * UNIT));
    lg.append("path").datum(s).attr("d", line)
      .attr("fill", "none").attr("stroke", colors[i])
      .attr("stroke-width", 1.7).attr("stroke-linejoin", "round");
  });

  // frame
  g.append("rect").attr("x", 0).attr("y", 0).attr("width", W).attr("height", H)
    .attr("fill", "none").attr("stroke", "#2b2b2b").attr("stroke-width", 1);

  // axes
  const ya = g.append("g").call(d3.axisLeft(y).tickValues(tv)
      .tickFormat((d, i) => yTickLabels[k][i]).tickSize(0).tickPadding(6));
  ya.select(".domain").remove();
  ya.selectAll("text").attr("font-family", tickFont).attr("font-size", 23).attr("fill", "#111")
    .attr("dy", (d, i) => i === 0 ? "0.2em" : "0.32em");

  const xa = g.append("g").attr("transform", `translate(0,${H})`)
    .call(d3.axisBottom(x).tickValues(xTickLabels.map(Number))
      .tickFormat((d, i) => xTickLabels[i]).tickSize(0).tickPadding(14));
  xa.select(".domain").remove();
  xa.selectAll("text").attr("font-family", tickFont).attr("font-size", 23).attr("fill", "#111");

  // element label box
  const bx = L + W - 22, by = T - 20;
  boxes.append("rect").attr("x", bx).attr("y", by).attr("width", 42).attr("height", 40).attr("fill", "#000");
  const t = boxes.append("text").attr("x", bx + 3).attr("y", T + 3)
    .attr("font-family", "'Liberation Sans', Arial, sans-serif").attr("font-weight", "bold")
    .attr("fill", "#fff");
  t.append("tspan").attr("font-size", 24).text("m");
  t.append("tspan").attr("font-size", 16).attr("dy", 12).attr("dx", 0).text(panelNames[k]);
});

// legend
const leg = svg.append("g");
leg.append("rect").attr("x", 7.5).attr("y", 10.5).attr("width", 119).attr("height", 238)
  .attr("fill", "#fff").attr("stroke", "#8a8a8a").attr("stroke-width", 1);
angles.forEach((a, i) => {
  const yy = 27.7 + i * 25.7;
  leg.append("line").attr("x1", 16).attr("x2", 57).attr("y1", yy).attr("y2", yy)
    .attr("stroke", colors[i]).attr("stroke-width", 1.8);
  leg.append("text").attr("x", 62).attr("y", yy).attr("dy", "0.36em")
    .attr("font-family", "'Liberation Sans', Arial, sans-serif").attr("font-size", 19)
    .attr("fill", "#222").text(a);
});

// x-axis title
const xt = svg.append("text").attr("x", 654).attr("y", 772).attr("text-anchor", "middle")
  .attr("font-family", "'Liberation Sans', Arial, sans-serif").attr("font-size", 26).attr("fill", "#111");
xt.append("tspan").text("Vlnová délka ");
xt.append("tspan").attr("font-family", "'Liberation Serif', 'DejaVu Serif', serif").attr("font-style", "italic").text("λ");
xt.append("tspan").text(" [nm]");
</script>
</body></html>
